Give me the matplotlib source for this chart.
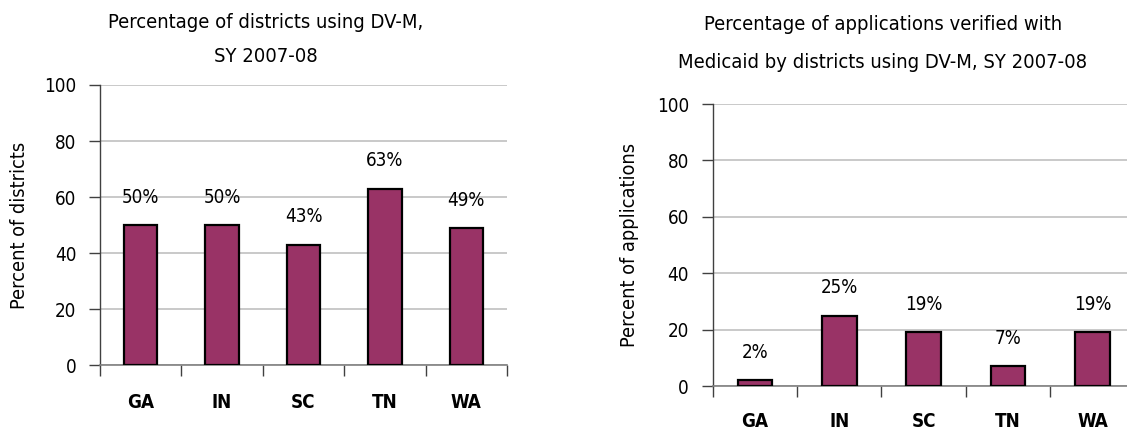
import matplotlib.pyplot as plt
import numpy as np

plt.rcParams["font.family"] = ["DejaVu Sans"]
plt.rcParams["font.stretch"] = "condensed"

states = ["GA", "IN", "SC", "TN", "WA"]
districts_pct = [50, 50, 43, 63, 49]
applications_pct = [2, 25, 19, 7, 19]
y_ticks = [0, 20, 40, 60, 80, 100]

BAR_COLOR = "#993366"
GRID_COLOR = "#c0c0c0"
FS = 13.5


def draw_panel(ax, values, ylabel, label_x, xpad):
    x = np.arange(len(states))
    ax.bar(x, values, width=0.41, color=BAR_COLOR, edgecolor="black",
           linewidth=1.6, zorder=3)
    for xi, v in zip(x, values):
        ax.annotate(f"{v}%", (xi, v), xytext=(0, 20), textcoords="offset points",
                    ha="center", va="center", fontsize=FS)

    ax.set_xlim(-0.5, len(states) - 0.5)
    ax.set_ylim(0, 100)
    ax.set_yticks(y_ticks)
    ax.yaxis.grid(True, color=GRID_COLOR, linewidth=1.2, zorder=0)
    ax.set_axisbelow(True)

    # category separators as minor ticks, labels on the major ones
    ax.set_xticks(x)
    ax.set_xticklabels(states, fontsize=FS, fontweight="bold")
    ax.set_xticks(np.arange(-0.5, len(states)), minor=True)
    ax.tick_params(axis="x", which="major", length=0, pad=xpad)
    ax.tick_params(axis="x", which="minor", length=8, width=1, color="#404040",
                   direction="out")
    ax.tick_params(axis="y", length=8, width=1, color="#404040", pad=9,
                   labelsize=FS)

    for side in ("top", "right"):
        ax.spines[side].set_visible(False)
    ax.spines["left"].set_color("#404040")
    ax.spines["bottom"].set_color("#808080")
    ax.spines["left"].set_linewidth(1)
    ax.spines["bottom"].set_linewidth(1.2)

    ax.set_ylabel(ylabel, fontsize=14.3)
    ax.yaxis.set_label_coords(label_x, 0.5)


fig = plt.figure(figsize=(11.27, 4.33), dpi=100)
ax1 = fig.add_axes([0.0887, 0.157, 0.3611, 0.6467])
ax2 = fig.add_axes([0.6324, 0.1085, 0.3744, 0.6513])

draw_panel(ax1, districts_pct, "Percent of districts", -0.174, 20)
draw_panel(ax2, applications_pct, "Percent of applications", -0.175, 19)

TITLE_FS = 14.5
fig.text(266 / 1127, 1 - 23 / 433, "Percentage of districts using DV-M,",
         ha="center", va="center", fontsize=TITLE_FS)
fig.text(266 / 1127, 1 - 57 / 433, "SY 2007-08",
         ha="center", va="center", fontsize=TITLE_FS)
fig.text(883 / 1127, 1 - 25 / 433, "Percentage of applications verified with",
         ha="center", va="center", fontsize=TITLE_FS)
fig.text(883 / 1127, 1 - 62 / 433, "Medicaid by districts using DV-M, SY 2007-08",
         ha="center", va="center", fontsize=TITLE_FS)

fig.savefig("out.png", dpi=100)
